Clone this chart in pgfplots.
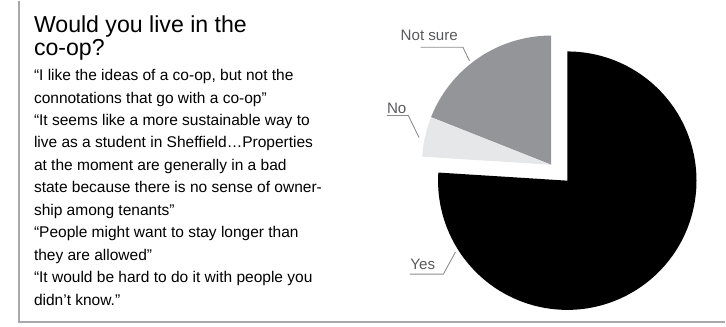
\documentclass[border=0pt]{standalone}
\usepackage{pgfplots}
\pgfplotsset{compat=1.18}
\usepackage{pgfplotstable}
\usepackage{fontspec}
\setmainfont{Liberation Sans}
\definecolor{notsure}{HTML}{939598}
\definecolor{nocol}{HTML}{E6E7E8}
\definecolor{leadc}{HTML}{8C8C8C}
\definecolor{labtxt}{HTML}{58595B}
\definecolor{framec}{HTML}{A7A9AC}

\pgfplotstableread{
label value
Yes 76
No 5
NotSure 19
}\pietable

\begin{document}
\pgfplotstablegetelem{0}{value}\of\pietable \edef\vYes{\pgfplotsretval}
\pgfplotstablegetelem{1}{value}\of\pietable \edef\vNo{\pgfplotsretval}
\pgfplotstablegetelem{2}{value}\of\pietable \edef\vNS{\pgfplotsretval}
\pgfmathsetmacro\aYes{90-3.6*\vYes}
\pgfmathsetmacro\aNS{90+3.6*\vNS}
\pgfmathsetmacro\aNo{90+3.6*(\vNS+\vNo)}
\begin{tikzpicture}
\begin{axis}[scale only axis, width=726pt, height=333pt,
  xmin=0, xmax=726, ymin=0, ymax=333, y dir=reverse,
  hide axis, clip=false]
\path (0,0) rectangle (726,333);
% frame
\addplot[framec, line width=1.5pt] coordinates {(2.8,-1) (2.8,328.5) (727,328.5)};
% pie slices
\addplot[fill=black, draw=none, domain=\aYes:90, samples=150, variable=\t]
  ({565+132.5*cos(\t)}, {183.5-132.5*sin(\t)}) -- (565,183.5) -- cycle;
\addplot[fill=notsure, draw=none, domain=90:\aNS, samples=60, variable=\t]
  ({548.5+132.5*cos(\t)}, {167.2-132.5*sin(\t)}) -- (548.5,167.2) -- cycle;
\addplot[fill=nocol, draw=none, domain=\aNS:\aNo, samples=30, variable=\t]
  ({548.5+132.5*cos(\t)}, {167.2-132.5*sin(\t)}) -- (548.5,167.2) -- cycle;
% leaders
\addplot[leadc, line width=0.9pt] coordinates {(414.7,46.7) (458,46.7) (464.7,60.7)};
\addplot[leadc, line width=0.9pt] coordinates {(380,116.7) (402,116.7) (413,139.3)};
\addplot[leadc, line width=0.9pt] coordinates {(403.7,279.3) (438,279.3) (450.3,256.7)};
% labels
\node[anchor=base west, inner sep=0pt, text=labtxt, font=\fontsize{15.5}{15.5}\selectfont] at (394,40) {Not sure};
\node[anchor=base west, inner sep=0pt, text=labtxt, font=\fontsize{15.5}{15.5}\selectfont] at (380,115) {No};
\node[anchor=base west, inner sep=0pt, text=labtxt, font=\fontsize{15.5}{15.5}\selectfont] at (404,275) {Yes};
% title
\node[anchor=base west, inner sep=0pt, font=\fontsize{23.7}{23.7}\selectfont] at (18,32) {Would you live in the};
\node[anchor=base west, inner sep=0pt, font=\fontsize{23.7}{23.7}\selectfont] at (18,55) {co-op?};
% body
\begin{scope}[every node/.style={anchor=base west, inner sep=0pt, font=\fontsize{15.9}{15.9}\selectfont}]
\node at (18,81) {“I like the ideas of a co-op, but not the};
\node at (18,104) {connotations that go with a co-op”};
\node at (18,127) {“It seems like a more sustainable way to};
\node at (18,150) {live as a student in Sheffield…Properties};
\node at (18,173) {at the moment are generally in a bad};
\node at (18,196) {state because there is no sense of owner-};
\node at (18,219) {ship among tenants”};
\node at (18,242) {“People might want to stay longer than};
\node at (18,265) {they are allowed”};
\node at (18,288) {“It would be hard to do it with people you};
\node at (18,311) {didn’t know.”};
\end{scope}
\end{axis}
\end{tikzpicture}
\end{document}
